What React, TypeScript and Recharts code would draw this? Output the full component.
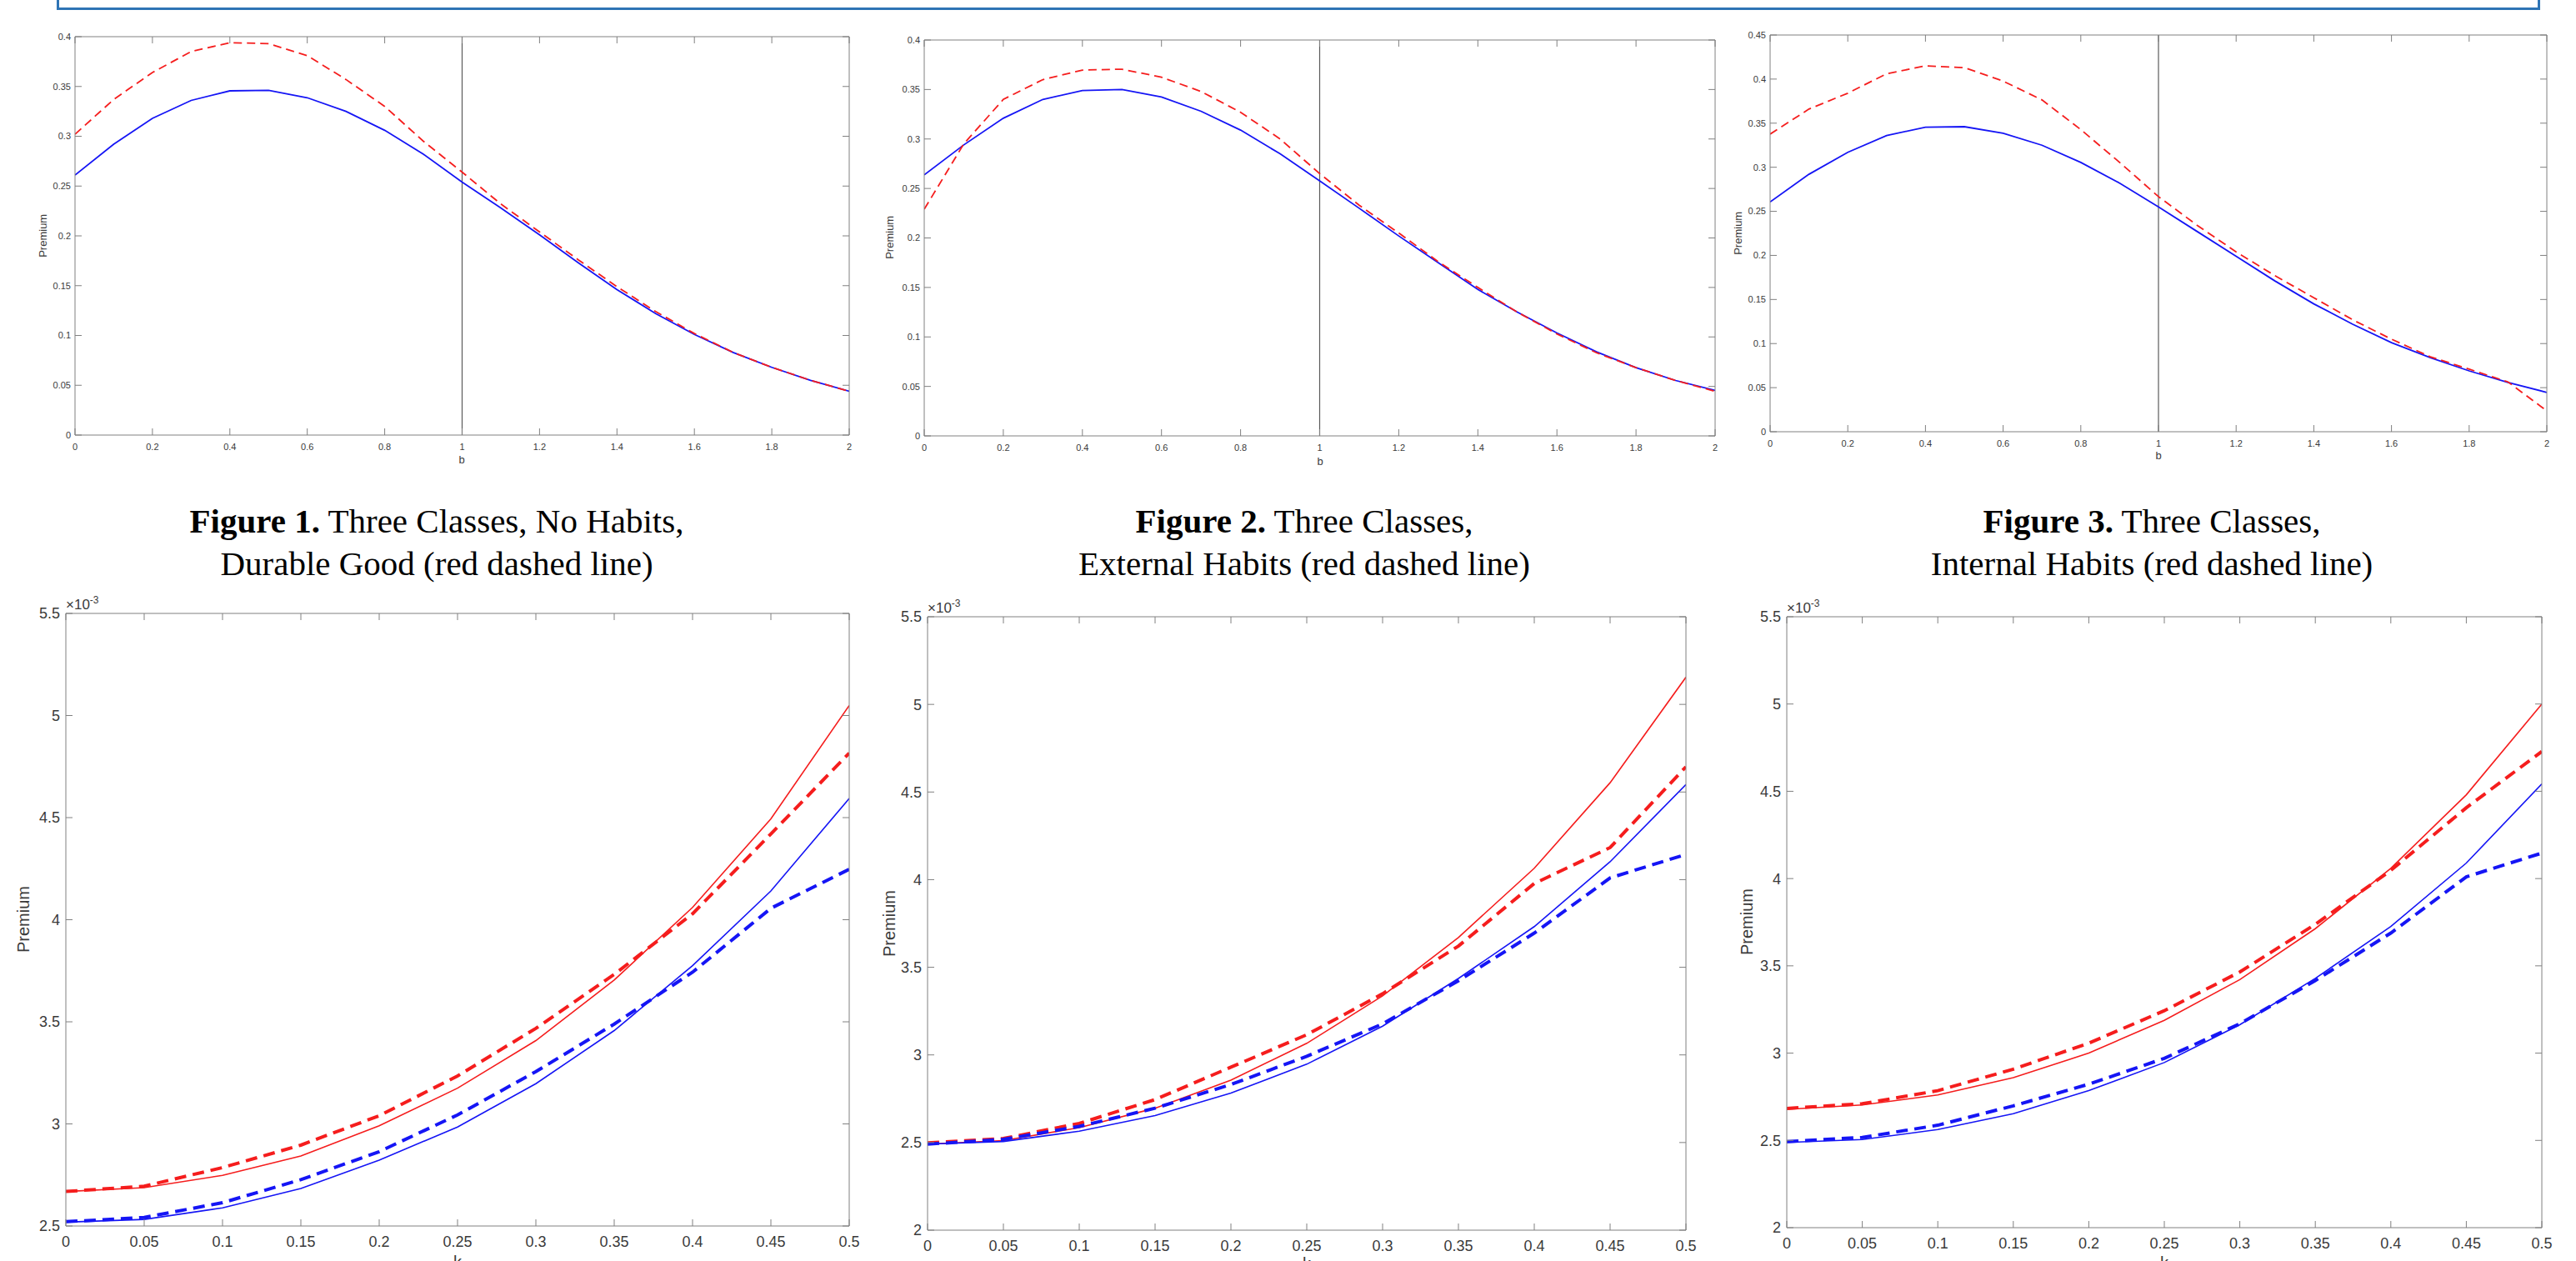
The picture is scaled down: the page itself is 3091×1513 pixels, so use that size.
import React from 'react';
import { LineChart, Line, XAxis, YAxis, ReferenceLine } from 'recharts';

// ---------- data: top row (x = b) ----------
const bValues = [0, 0.1, 0.2, 0.3, 0.4, 0.5, 0.6, 0.7, 0.8, 0.9, 1, 1.1, 1.2, 1.3, 1.4, 1.5, 1.6, 1.7, 1.8, 1.9, 2];
const bTicks = [0, 0.2, 0.4, 0.6, 0.8, 1, 1.2, 1.4, 1.6, 1.8, 2];

const fig1Blue = [0.261, 0.292, 0.318, 0.336, 0.3456, 0.3462, 0.3387, 0.325, 0.306, 0.282, 0.254, 0.228, 0.201, 0.173, 0.146, 0.122, 0.101, 0.083, 0.068, 0.055, 0.044];
const fig1Red = [0.302, 0.337, 0.364, 0.385, 0.394, 0.393, 0.381, 0.357, 0.33, 0.295, 0.264, 0.232, 0.204, 0.176, 0.149, 0.124, 0.102, 0.083, 0.068, 0.055, 0.044];

const fig2Blue = [0.2637, 0.294, 0.321, 0.34, 0.349, 0.35, 0.3425, 0.328, 0.309, 0.285, 0.2576, 0.23, 0.202, 0.175, 0.148, 0.125, 0.104, 0.085, 0.069, 0.056, 0.046];
const fig2Red = [0.229, 0.295, 0.34, 0.36, 0.3696, 0.3705, 0.3624, 0.348, 0.327, 0.3, 0.265, 0.233, 0.205, 0.176, 0.15, 0.125, 0.103, 0.084, 0.069, 0.056, 0.045];

const fig3Blue = [0.2606, 0.292, 0.317, 0.336, 0.3454, 0.346, 0.3386, 0.325, 0.3055, 0.282, 0.255, 0.227, 0.199, 0.171, 0.145, 0.122, 0.101, 0.084, 0.069, 0.056, 0.0446];
const fig3Red = [0.3376, 0.366, 0.384, 0.406, 0.415, 0.413, 0.3977, 0.3764, 0.3427, 0.3055, 0.2667, 0.234, 0.204, 0.177, 0.152, 0.127, 0.105, 0.085, 0.071, 0.0565, 0.0236];

const topYTicks040 = [0, 0.05, 0.1, 0.15, 0.2, 0.25, 0.3, 0.35, 0.4];
const topYTicks045 = [0, 0.05, 0.1, 0.15, 0.2, 0.25, 0.3, 0.35, 0.4, 0.45];

// ---------- data: bottom row (x = k), values in units of 1e-3 ----------
const kValues = [0, 0.05, 0.1, 0.15, 0.2, 0.25, 0.3, 0.35, 0.4, 0.45, 0.5];
const kTicks = [0, 0.05, 0.1, 0.15, 0.2, 0.25, 0.3, 0.35, 0.4, 0.45, 0.5];

const p4RedSolid = [2.669, 2.688, 2.748, 2.843, 2.991, 3.175, 3.408, 3.705, 4.06, 4.494, 5.049];
const p4RedDash = [2.669, 2.695, 2.786, 2.896, 3.04, 3.235, 3.468, 3.732, 4.029, 4.42, 4.816];
const p4BlueSolid = [2.519, 2.532, 2.589, 2.684, 2.822, 2.985, 3.197, 3.457, 3.775, 4.141, 4.594];
const p4BlueDash = [2.521, 2.542, 2.614, 2.727, 2.864, 3.044, 3.256, 3.489, 3.743, 4.056, 4.247];

const p5RedSolid = [2.491, 2.511, 2.585, 2.696, 2.856, 3.066, 3.337, 3.67, 4.065, 4.553, 5.155];
const p5RedDash = [2.498, 2.523, 2.609, 2.745, 2.93, 3.115, 3.349, 3.621, 3.978, 4.183, 4.644];
const p5BlueSolid = [2.491, 2.506, 2.565, 2.654, 2.782, 2.947, 3.164, 3.436, 3.732, 4.102, 4.543];
const p5BlueDash = [2.491, 2.518, 2.592, 2.696, 2.831, 2.992, 3.177, 3.423, 3.695, 4.01, 4.144];

const p6RedSolid = [2.678, 2.703, 2.76, 2.859, 3.0, 3.188, 3.421, 3.713, 4.059, 4.48, 5.0];
const p6RedDash = [2.683, 2.71, 2.785, 2.908, 3.057, 3.243, 3.465, 3.738, 4.047, 4.406, 4.728];
const p6BlueSolid = [2.488, 2.505, 2.562, 2.653, 2.785, 2.946, 3.163, 3.428, 3.725, 4.089, 4.542];
const p6BlueDash = [2.493, 2.517, 2.587, 2.698, 2.822, 2.97, 3.168, 3.416, 3.688, 4.01, 4.146];

const bottomYTicks25 = [2.5, 3, 3.5, 4, 4.5, 5, 5.5];
const bottomYTicks2 = [2, 2.5, 3, 3.5, 4, 4.5, 5, 5.5];

const captionLine1 = ['Three Classes, No Habits,', 'Three Classes,', 'Three Classes,'];
const captionLine2 = ['Durable Good (red dashed line)', 'External Habits (red dashed line)', 'Internal Habits (red dashed line)'];
const captionLabel = ['Figure 1.', 'Figure 2.', 'Figure 3.'];

// ---------- helpers ----------
const makeRows = (xs: number[], cols: Record<string, number[]>) =>
  xs.map((x, i) => {
    const row: Record<string, number> = { x };
    Object.keys(cols).forEach((k) => (row[k] = cols[k][i]));
    return row;
  });

const BLUE = '#1515f5';
const RED = '#f51d1d';
const AXIS = '#808080';
const TXT = '#3a3a3a';
const SANS = '"Liberation Sans", Arial, Helvetica, sans-serif';

type Series = { key: string; color: string; width: number; dash?: string };

function Panel(props: {
  x0: number; y0: number; x1: number; y1: number;
  data: any[]; xDomain: [number, number]; xTicks: number[];
  yDomain: [number, number]; yTicks: number[];
  fontSize: number; series: Series[]; refX?: number;
  L: number; B: number; tick: number; gapY: number; gapX: number;
}) {
  const { x0, y0, x1, y1, data, xDomain, xTicks, yDomain, yTicks, fontSize, series, refX, L, B, tick, gapY, gapX } = props;
  const R = 25, T = 10;
  const w = L + (x1 - x0) + R;
  const h = T + (y1 - y0) + B;
  const tickStyle = { fill: TXT, fontSize, fontFamily: SANS };
  return (
    <div style={{ position: 'absolute', left: x0 - L, top: y0 - T, width: w, height: h }}>
      <LineChart width={w} height={h} data={data} margin={{ top: 0, right: 0, bottom: 0, left: 0 }}>
        <XAxis xAxisId="b" dataKey="x" type="number" domain={xDomain} ticks={xTicks} interval={0}
          allowDataOverflow height={B} stroke={AXIS} tickSize={-tick} tickMargin={tick + gapX} tick={tickStyle}
          tickFormatter={(v: number) => String(v)} />
        <XAxis xAxisId="t" dataKey="x" orientation="top" type="number" domain={xDomain} ticks={xTicks} interval={0}
          allowDataOverflow height={T} stroke={AXIS} tickSize={-tick} tickFormatter={() => ''} />
        <YAxis yAxisId="l" type="number" domain={yDomain} ticks={yTicks} interval={0} allowDataOverflow
          width={L} stroke={AXIS} tickSize={-tick} tickMargin={tick + gapY} tick={tickStyle}
          tickFormatter={(v: number) => String(v)} />
        <YAxis yAxisId="r" orientation="right" type="number" domain={yDomain} ticks={yTicks} interval={0}
          allowDataOverflow width={R} stroke={AXIS} tickSize={-tick} tickFormatter={() => ''} />
        {refX !== undefined && (
          <ReferenceLine xAxisId="b" yAxisId="l" x={refX} stroke="#5a5a5a" strokeWidth={1.2} />
        )}
        {series.map((s) => (
          <Line key={s.key} xAxisId="b" yAxisId="l" type="linear" dataKey={s.key} stroke={s.color}
            strokeWidth={s.width} strokeDasharray={s.dash} dot={false} activeDot={false}
            isAnimationActive={false} />
        ))}
      </LineChart>
    </div>
  );
}

function VLabel({ cx, cy, text, size }: { cx: number; cy: number; text: string; size: number }) {
  return (
    <div style={{
      position: 'absolute', left: cx - 100, top: cy - size * 0.6, width: 200, height: size * 1.2,
      lineHeight: `${size * 1.2}px`, textAlign: 'center', fontSize: size, fontFamily: SANS, color: TXT,
      transform: 'rotate(-90deg)', transformOrigin: '50% 50%', whiteSpace: 'nowrap',
    }}>{text}</div>
  );
}

function HLabel({ cx, cy, text, size }: { cx: number; cy: number; text: string; size: number }) {
  return (
    <div style={{
      position: 'absolute', left: cx - 100, top: cy - size * 0.6, width: 200, height: size * 1.2,
      lineHeight: `${size * 1.2}px`, textAlign: 'center', fontSize: size, fontFamily: SANS, color: TXT,
    }}>{text}</div>
  );
}

function Exponent({ x, cy }: { x: number; cy: number }) {
  return (
    <div style={{
      position: 'absolute', left: x, top: cy - 10, height: 20, lineHeight: '20px',
      fontSize: 17, fontFamily: SANS, color: TXT, whiteSpace: 'nowrap',
    }}>×10<span style={{ fontSize: 12, position: 'relative', top: -7 }}>-3</span></div>
  );
}

function Caption({ cx, idx }: { cx: number; idx: number }) {
  return (
    <div style={{
      position: 'absolute', left: cx - 500, top: 600, width: 1000, textAlign: 'center',
      fontFamily: '"Liberation Serif", "Times New Roman", serif', fontSize: 41, lineHeight: '51px', color: '#000',
    }}>
      <div><b>{captionLabel[idx]}</b> {captionLine1[idx]}</div>
      <div>{captionLine2[idx]}</div>
    </div>
  );
}

const topSeries: Series[] = [
  { key: 'blue', color: BLUE, width: 1.8 },
  { key: 'red', color: RED, width: 1.8, dash: '10 6' },
];
const bottomSeries: Series[] = [
  { key: 'redSolid', color: RED, width: 1.6 },
  { key: 'blueSolid', color: BLUE, width: 1.6 },
  { key: 'redDash', color: RED, width: 4, dash: '14 8' },
  { key: 'blueDash', color: BLUE, width: 4, dash: '14 8' },
];

export default function App() {
  const d1 = makeRows(bValues, { blue: fig1Blue, red: fig1Red });
  const d2 = makeRows(bValues, { blue: fig2Blue, red: fig2Red });
  const d3 = makeRows(bValues, { blue: fig3Blue, red: fig3Red });
  const d4 = makeRows(kValues, { redSolid: p4RedSolid, redDash: p4RedDash, blueSolid: p4BlueSolid, blueDash: p4BlueDash });
  const d5 = makeRows(kValues, { redSolid: p5RedSolid, redDash: p5RedDash, blueSolid: p5BlueSolid, blueDash: p5BlueDash });
  const d6 = makeRows(kValues, { redSolid: p6RedSolid, redDash: p6RedDash, blueSolid: p6BlueSolid, blueDash: p6BlueDash });

  const topCommon = { xDomain: [0, 2] as [number, number], xTicks: bTicks, fontSize: 11, series: topSeries, refX: 1, L: 60, B: 30, tick: 8, gapY: 5, gapX: 10 };
  const botCommon = { xDomain: [0, 0.5] as [number, number], xTicks: kTicks, fontSize: 18, series: bottomSeries, L: 70, B: 45, tick: 8, gapY: 7, gapX: 12 };

  return (
    <div style={{ position: 'absolute', left: 0, top: 0, width: 3091, height: 1513, overflow: 'hidden', background: '#fff' }}>
      {/* blue frame (top cropped) */}
      <div style={{ position: 'absolute', left: 68, top: -60, width: 2974, height: 66, border: '3px solid #2e74b5' }} />

      <Panel x0={90} y0={44} x1={1019} y1={522} data={d1} yDomain={[0, 0.4]} yTicks={topYTicks040} {...topCommon} />
      <Panel x0={1109} y0={48} x1={2058} y1={523} data={d2} yDomain={[0, 0.4]} yTicks={topYTicks040} {...topCommon} />
      <Panel x0={2124} y0={42} x1={3056} y1={518} data={d3} yDomain={[0, 0.45]} yTicks={topYTicks045} {...topCommon} />

      <VLabel cx={52} cy={283} text="Premium" size={13} />
      <VLabel cx={1068} cy={285} text="Premium" size={13} />
      <VLabel cx={2086} cy={280} text="Premium" size={13} />
      <HLabel cx={554} cy={552} text="b" size={13} />
      <HLabel cx={1584} cy={554} text="b" size={13} />
      <HLabel cx={2590} cy={547} text="b" size={13} />

      <Caption cx={524} idx={0} />
      <Caption cx={1565} idx={1} />
      <Caption cx={2582} idx={2} />

      <Panel x0={79} y0={736} x1={1019} y1={1471} data={d4} yDomain={[2.5, 5.5]} yTicks={bottomYTicks25} {...botCommon} />
      <Panel x0={1113} y0={740} x1={2023} y1={1476} data={d5} yDomain={[2, 5.5]} yTicks={bottomYTicks2} {...botCommon} />
      <Panel x0={2144} y0={740} x1={3050} y1={1473} data={d6} yDomain={[2, 5.5]} yTicks={bottomYTicks2} {...botCommon} />

      <VLabel cx={28} cy={1103} text="Premium" size={20} />
      <VLabel cx={1067} cy={1108} text="Premium" size={20} />
      <VLabel cx={2096} cy={1106} text="Premium" size={20} />
      <HLabel cx={549} cy={1514} text="k" size={20} />
      <HLabel cx={1568} cy={1516} text="k" size={20} />
      <HLabel cx={2597} cy={1515} text="k" size={20} />

      <Exponent x={79} cy={726} />
      <Exponent x={1113} cy={730} />
      <Exponent x={2144} cy={730} />
    </div>
  );
}
